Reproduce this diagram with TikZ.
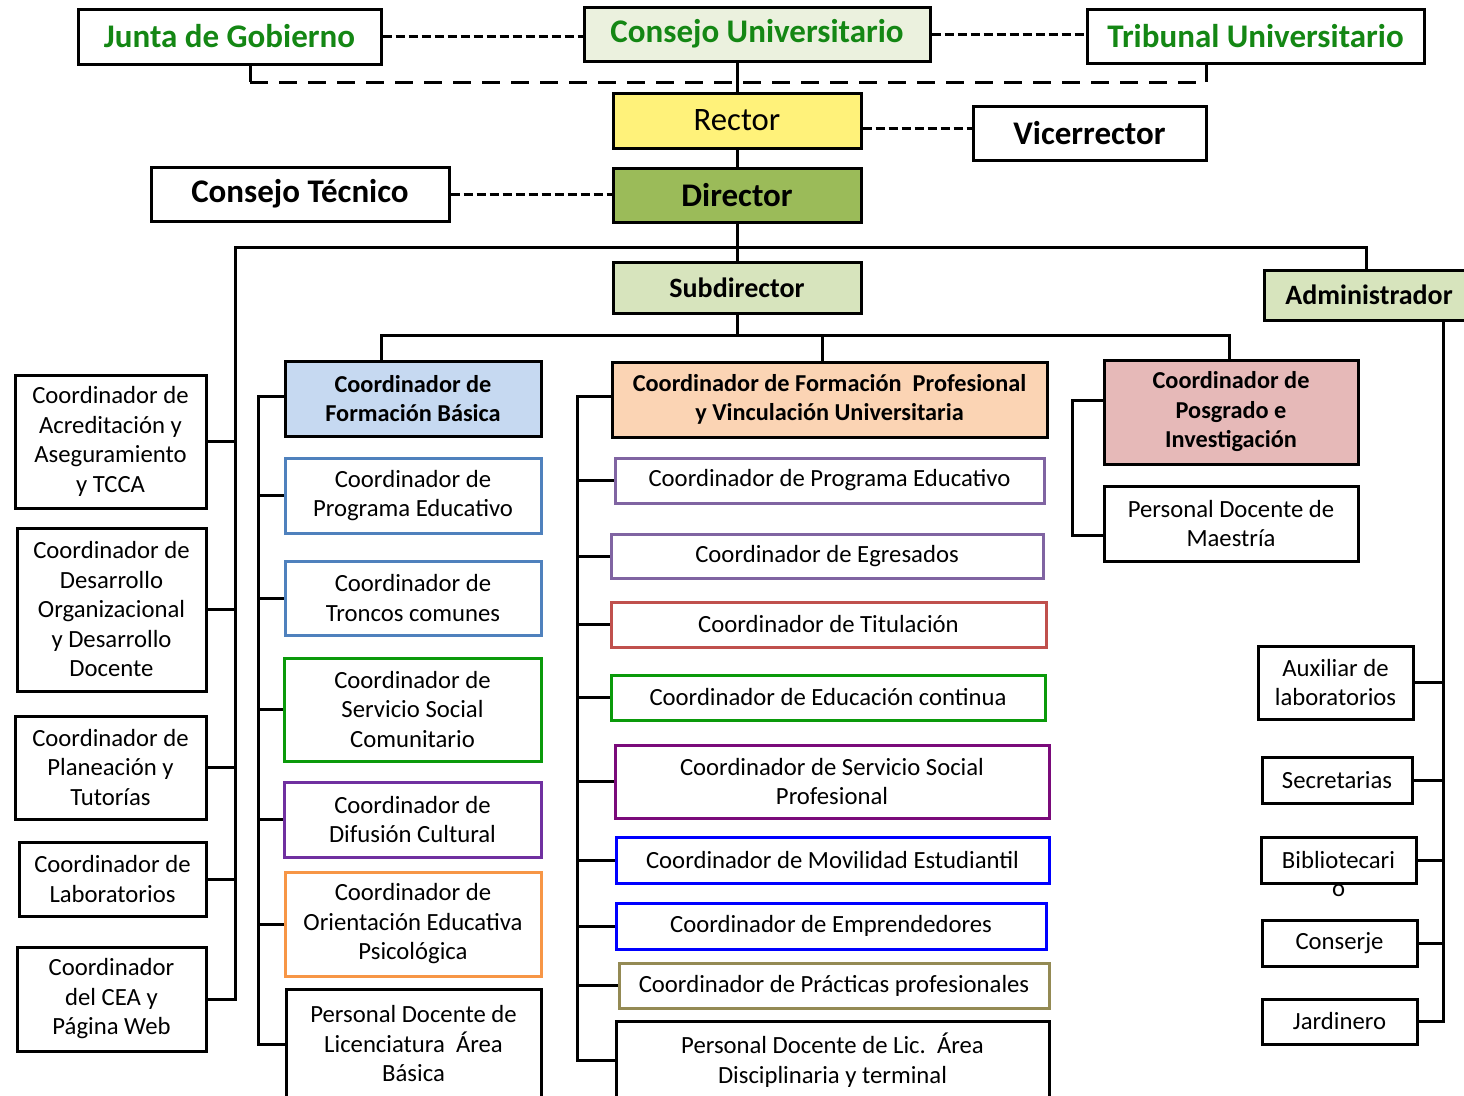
\documentclass[tikz,border=0pt]{standalone}
\usepackage{fontspec}
\setmainfont{Carlito}
\usetikzlibrary{calc}
\definecolor{grn}{RGB}{20,135,20}
\definecolor{cufill}{HTML}{EBF1DE}
\definecolor{recfill}{HTML}{FFF27A}
\definecolor{dirfill}{HTML}{9BBB59}
\definecolor{subfill}{HTML}{D7E4BD}
\definecolor{fbfill}{HTML}{C6D9F1}
\definecolor{fpfill}{HTML}{FBD4B4}
\definecolor{posfill}{HTML}{E6B9B8}
\definecolor{steel}{HTML}{4F81BD}
\definecolor{gborder}{HTML}{0A9A0A}
\definecolor{purp}{HTML}{7030A0}
\definecolor{dpurp}{HTML}{7A0A7A}
\definecolor{lav}{HTML}{8064A2}
\definecolor{redb}{HTML}{C0504D}
\definecolor{orb}{HTML}{F79646}
\definecolor{blueb}{HTML}{0000FF}
\definecolor{khaki}{HTML}{948A54}
\begin{document}
\begin{tikzpicture}[x=1pt,y=-1pt,
  box/.style={draw=black, fill=white, line width=3pt, inner sep=0pt, align=center,
    font=\fontsize{24.7}{29.5}\selectfont},
  hdr/.style={box, font=\bfseries\fontsize{24.3}{29.5}\selectfont},
  ttl/.style={box, font=\bfseries\fontsize{33}{38}\selectfont},
  sub/.style={box, font=\bfseries\fontsize{28}{32}\selectfont},
  conn/.style={line width=3pt, draw=black},
  dsh/.style={line width=3pt, dash pattern=on 9pt off 4pt},
  dshl/.style={line width=3pt, dash pattern=on 18pt off 11pt},
  wh/.style 2 args={minimum width=#1, minimum height=#2}]
\useasboundingbox (0,0) rectangle (1464,1095);
\clip (0,0) rectangle (1464,1095);

% ---- top ----
\node[ttl, text=grn, wh={303}{55}] (junta) at (229.5,36.5) {Junta de Gobierno};
\node[ttl, text=grn, fill=cufill, wh={346}{54}] (consejo) at (757,34) {Consejo Universitario};
\node[ttl, text=grn, wh={337}{54}] (tribunal) at (1255.5,36) {Tribunal Universitario};
\node[box, font=\fontsize{32.7}{38}\selectfont, fill=recfill, wh={248}{55}] (rector) at (737,120.5) {Rector};
\node[ttl, wh={233}{54}] (vice) at (1089.5,133) {Vicerrector};
\node[ttl, wh={298}{54}] (ctec) at (300,194) {Consejo Técnico};
\node[ttl, fill=dirfill, wh={248}{54}] (director) at (737,195) {Director};
\node[sub, fill=subfill, wh={248}{51}] (subdir) at (737,287.5) {Subdirector};
\node[sub, fill=subfill, wh={210}{50}] (admin) at (1369,295) {Administrador};

% ---- left column ----
\node[box, wh={191}{133}] (acr) at (110.5,441.5) {Coordinador de\\Acreditación y\\Aseguramiento\\y TCCA};
\node[box, wh={189}{163}] (des) at (111.5,609.5) {Coordinador de\\Desarrollo\\Organizacional\\y Desarrollo\\Docente};
\node[box, wh={191}{103}] (pla) at (110.5,767.5) {Coordinador de\\Planeación y\\Tutorías};
\node[box, wh={187}{74}] (lab) at (112.5,879) {Coordinador de\\Laboratorios};
\node[box, wh={189}{104}] (cea) at (111.5,999) {Coordinador\\del CEA y\\Página Web};

% ---- Formación Básica ----
\node[hdr, fill=fbfill, wh={256}{75}] (fb) at (413,398.5) {Coordinador de\\Formación Básica};
\node[box, draw=steel, wh={256}{75}] (fb1) at (413,495.5) {Coordinador de\\Programa Educativo};
\node[box, draw=steel, wh={256}{74}] (fb2) at (413,598) {Coordinador de\\Troncos comunes};
\node[box, draw=gborder, wh={257}{103}] (fb3) at (412.5,709.5) {Coordinador de\\Servicio Social\\Comunitario};
\node[box, draw=purp, wh={257}{75}] (fb4) at (412.5,819.5) {Coordinador de\\Difusión Cultural};
\node[box, draw=orb, wh={256}{104}] (fb5) at (413,924) {Coordinador de\\Orientación Educativa\\Psicológica};
\node[box, wh={255}{110}] (pdl) at (413.5,1044) {Personal Docente de\\Licenciatura\ \ Área\\Básica};

% ---- Formación Profesional ----
\node[hdr, fill=fpfill, wh={435}{75}] (fp) at (829.5,399.5) {Coordinador de Formación\ \ Profesional\\y Vinculación Universitaria};
\node[box, draw=lav, wh={429}{45}] (fp1) at (829.5,480.5) {Coordinador de Programa Educativo};
\node[box, draw=lav, wh={432}{44}] (fp2) at (827,556) {Coordinador de Egresados};
\node[box, draw=redb, wh={435}{45}] (fp3) at (828.5,624.5) {Coordinador de Titulación};
\node[box, draw=gborder, wh={434}{45}] (fp4) at (828,697.5) {Coordinador de Educación continua};
\node[box, draw=dpurp, wh={434}{73}] (fp5) at (832,781.5) {Coordinador de Servicio Social\\Profesional};
\node[box, draw=blueb, wh={433}{46}] (fp6) at (832.5,860) {Coordinador de Movilidad Estudiantil};
\node[box, draw=blueb, wh={430}{46}] (fp7) at (831,926) {Coordinador de Emprendedores};
\node[box, draw=khaki, wh={430}{45}] (fp8) at (834,985.5) {Coordinador de Prácticas profesionales};
\node[box, wh={433}{78}] (pdd) at (832.5,1060) {Personal Docente de Lic.\ \ Área\\Disciplinaria y terminal};

% ---- Posgrado ----
\node[hdr, fill=posfill, wh={254}{104}] (pos) at (1231,412) {Coordinador de\\Posgrado e\\Investigación};
\node[box, wh={254}{75}] (mae) at (1231,523.5) {Personal Docente de\\Maestría};

% ---- Administración ----
\node[box, wh={155}{73}] (aux) at (1335.5,682.5) {Auxiliar de\\laboratorios};
\node[box, wh={150}{46}] (sec) at (1337,780) {Secretarias};
\node[box, wh={155}{46}] (bib) at (1338.5,860) {Bibliotecari};
\node[font=\fontsize{24.7}{29.5}\selectfont, inner sep=0pt] (bibo) at (1338.5,891) {o};
\node[box, wh={155}{46}] (con) at (1339.5,943) {Conserje};
\node[box, wh={155}{45}] (jar) at (1339.5,1021.5) {Jardinero};

% ---- connectors: top ----
\draw[dsh] (junta.east) -- (junta.east -| consejo.west);
\draw[dsh] (consejo.east) -- (consejo.east -| tribunal.west);
\coordinate (bl) at (250,82);
\coordinate (br) at (1206,82);
\draw[conn] (junta.south -| bl) -- (bl);
\draw[conn] (tribunal.south -| br) -- (br);
\draw[dshl] (bl) -- (br);
\draw[conn] (rector.north |- consejo.south) -- (rector.north);
\draw[conn] (rector.south) -- (director.north);
\coordinate (rv) at (0,128);
\draw[dsh] (rector.east |- rv) -- (vice.west |- rv);
\draw[dsh] (ctec.east) -- (ctec.east -| director.west);
\draw[conn] (director.south) -- (subdir.north);

% ---- bus under director ----
\coordinate (lt) at (235,247);
\coordinate (rt) at (1366,247);
\draw[conn] (cea.east) -- (cea.east -| lt) -- (lt) -- (rt) -- (rt |- admin.north);
\foreach \n in {acr,des,pla,lab} \draw[conn] (\n.east) -- (\n.east -| lt);

% ---- bus under subdirector ----
\coordinate (s1) at (381,335);
\coordinate (s2) at (822,335);
\coordinate (s3) at (1229,335);
\draw[conn] (subdir.south) -- (subdir.south |- s1);
\draw[conn] (fb.north -| s1) -- (s1) -- (s3) -- (pos.north -| s3);
\draw[conn] (s2) -- (fp.north -| s2);

% ---- Formación Básica trunk ----
\coordinate (t1) at (258,0);
\draw[conn] ($(fb.west)+(0,-2.5)$) -- ($(fb.west -| t1)+(0,-2.5)$) -- (pdl.west -| t1) -- (pdl.west);
\foreach \n in {fb1,fb2,fb3,fb4,fb5} \draw[conn] (\n.west) -- (\n.west -| t1);

% ---- Formación Profesional trunk ----
\coordinate (t2) at (577,0);
\draw[conn] ($(fp.west)+(0,-3.5)$) -- ($(fp.west -| t2)+(0,-3.5)$) -- (pdd.west -| t2) -- (pdd.west);
\foreach \n in {fp1,fp2,fp3,fp4,fp5,fp6,fp7,fp8} \draw[conn] (\n.west) -- (\n.west -| t2);

% ---- Posgrado trunk ----
\coordinate (t3) at (1072,0);
\draw[conn] ($(pos.west)+(0,-12)$) -- ($(pos.west -| t3)+(0,-12)$) -- ($(mae.west -| t3)+(0,11.5)$) -- ($(mae.west)+(0,11.5)$);

% ---- Administración trunk ----
\coordinate (t4) at (1443,0);
\draw[conn] (admin.south -| t4) -- (jar.east -| t4) -- (jar.east);
\foreach \n in {aux,sec,bib,con} \draw[conn] (\n.east) -- (\n.east -| t4);
\end{tikzpicture}
\end{document}
